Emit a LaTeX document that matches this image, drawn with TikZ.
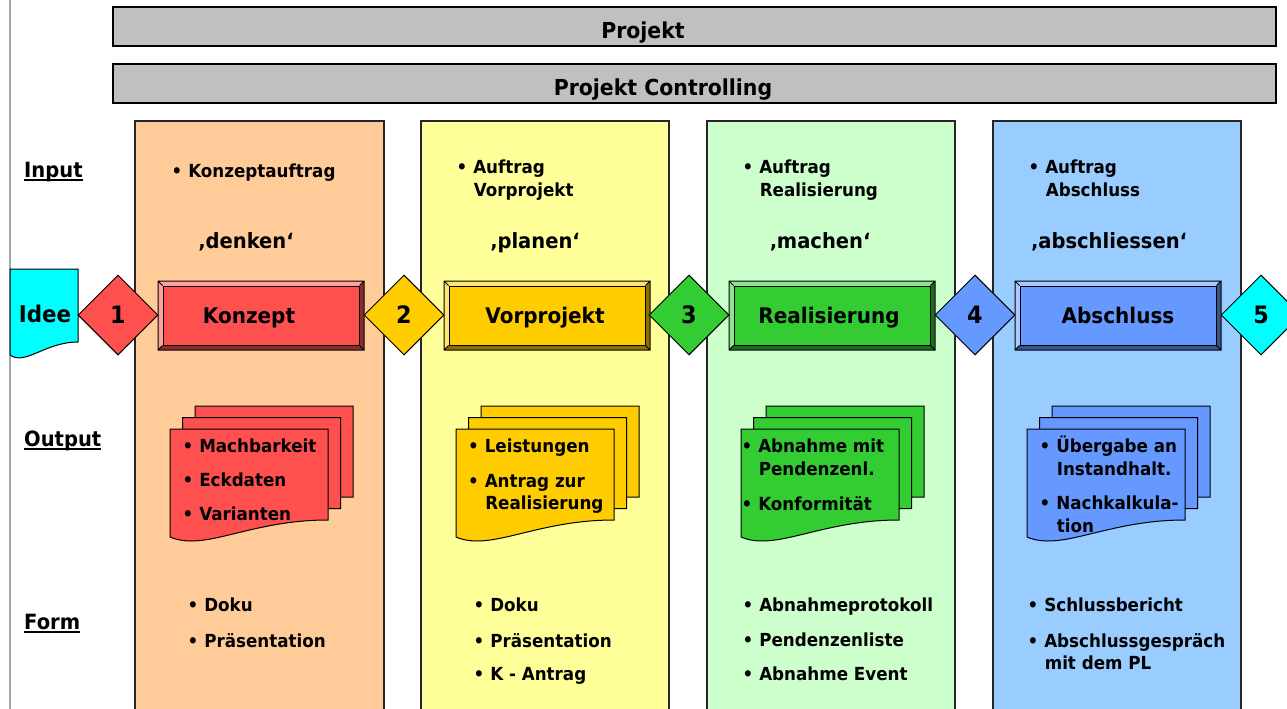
\documentclass[tikz,border=0pt]{standalone}
\usepackage{fontspec}
\setmainfont{DejaVu Sans}[FakeStretch=0.93]
\usetikzlibrary{shapes.geometric}
\definecolor{peach}{HTML}{FFCC99}
\definecolor{paleyellow}{HTML}{FFFF99}
\definecolor{palegreen}{HTML}{CCFFCC}
\definecolor{paleblue}{HTML}{99CCFF}
\definecolor{konred}{HTML}{FF5050}
\definecolor{vorgold}{HTML}{FFCC00}
\definecolor{reagreen}{HTML}{33CC33}
\definecolor{absblue}{HTML}{6699FF}
\definecolor{ideecyan}{HTML}{00FFFF}
\definecolor{bargray}{HTML}{C0C0C0}
\newcommand{\bul}{\makebox[0.92em][l]{•}}
\newcommand{\ind}{\hspace*{0.95em}}
\newcommand{\ulbf}[1]{\setbox0\hbox{#1}\rlap{\rule[-3.5pt]{\wd0}{1.6pt}}\box0}
% bevelled phase box: name, left, right, colour, label x, label
\newcommand{\phasebox}[6]{%
	\fill[#4!55!black] (#2,281) rectangle (#3,350);
	\fill[#4!55!white] (#2,281) -- (#3,281) -- ({#3-5},286) -- ({#2+5},286) -- ({#2+5},345) -- (#2,350) -- cycle;
	\node[phase, fill=#4] (#1) at ({(#2+#3)/2},315.5) {};
	\draw[line width=1pt] (#2,281) rectangle (#3,350)
		(#2,281) -- (#1.north west) (#3,281) -- (#1.north east)
		(#2,350) -- (#1.south west) (#3,350) -- (#1.south east);
	\node[phaselabel] (#1-label) at (#5,323) {#6};
}
% one sheet with wavy bottom: left, top, bottom-left, colour
\newcommand{\docsheet}[4]{%
	\pgfmathsetmacro{\sheetL}{#1}
	\draw[doc, fill=#4] (\sheetL,#2) -- ({\sheetL+158},#2) -- ({\sheetL+158},{#3-17})
		.. controls ({\sheetL+79},{#3-17}) and ({\sheetL+35},{#3+15}) .. (\sheetL,#3) -- cycle;
}
\newcommand{\docstack}[2]{%
	\docsheet{#1+25}{406}{514}{#2}
	\docsheet{#1+12.5}{417.5}{525.5}{#2}
	\docsheet{#1}{429}{537}{#2}
}

\begin{document}
\begin{tikzpicture}[x=1pt, y=-1pt,
		bar/.style={draw=black, line width=1.5pt, fill=bargray},
		bartext/.style={inner sep=0pt, anchor=base, font=\bfseries\fontsize{22}{26}\selectfont},
		column/.style={draw=black!85, line width=1.2pt},
		rowlabel/.style={inner sep=0pt, anchor=base west, font=\bfseries\fontsize{21}{25}\selectfont},
		item/.style={inner sep=0pt, anchor=north west, align=left, font=\bfseries\fontsize{18}{22.5}\selectfont},
		motto/.style={inner sep=0pt, anchor=base, font=\bfseries\fontsize{21}{25}\selectfont},
		gate/.style={draw=black, line width=1pt, diamond, minimum width=80pt, minimum height=80pt, inner sep=0pt, font=\bfseries\fontsize{24}{28}\selectfont},
		phase/.style={draw=black, line width=1pt, minimum width=196pt, minimum height=59pt, inner sep=0pt},
		phaselabel/.style={inner sep=0pt, anchor=base, font=\bfseries\fontsize{21.5}{26}\selectfont},
		doc/.style={draw=black, line width=1pt},
	]
	\useasboundingbox (0,0) rectangle (1287,709);
	\clip (0,0) rectangle (1287,709);
	\fill[white] (0,0) rectangle (1287,709);
	\draw[black!35, line width=2pt] (10,0) -- (10,709);

	\draw[bar] (113,7) rectangle (1276,46);
	\node[bartext] (projekt) at (643,38) {Projekt};
	\draw[bar] (113,64) rectangle (1276,103);
	\node[bartext] (controlling) at (663,95) {Projekt Controlling};

	\draw[column, fill=peach] (135,121) rectangle (384,720);
	\draw[column, fill=paleyellow] (421,121) rectangle (669,720);
	\draw[column, fill=palegreen] (707,121) rectangle (955,720);
	\draw[column, fill=paleblue] (993,121) rectangle (1241,720);

	\node[rowlabel] (input) at (24,177) {\ulbf{Input}};
	\node[rowlabel] (output) at (24,446) {\ulbf{Output}};
	\node[rowlabel] (form) at (24,629) {\ulbf{Form}};

	% Idee
	\draw[doc, fill=ideecyan] (10,269) -- (78,269) -- (78,342) .. controls (45,342) and (25,366) .. (10,355) -- cycle;
	\node[inner sep=0pt, anchor=base, font=\bfseries\fontsize{23}{27}\selectfont] (idee) at (45,322) {Idee};

	% phases
	\phasebox{konzept}{158}{364}{konred}{249}{Konzept}
	\phasebox{vorprojekt}{444}{650}{vorgold}{545}{Vorprojekt}
	\phasebox{realisierung}{729}{935}{reagreen}{829}{Realisierung}
	\phasebox{abschluss}{1015}{1221}{absblue}{1118}{Abschluss}

	\node[gate, fill=konred] (g1) at (118,315) {1};
	\node[gate, fill=vorgold] (g2) at (404,315) {2};
	\node[gate, fill=reagreen] (g3) at (689,315) {3};
	\node[gate, fill=absblue] (g4) at (975,315) {4};
	\node[gate, fill=ideecyan] (g5) at (1261,315) {5};

	% input
	\node[item] (in1) at (171.5,164) {\bul Konzeptauftrag};
	\node[item] (in2) at (456.5,160) {\bul Auftrag\\\ind Vorprojekt};
	\node[item] (in3) at (742.5,160) {\bul Auftrag\\\ind Realisierung};
	\node[item] (in4) at (1028.5,160) {\bul Auftrag\\\ind Abschluss};

	\node[motto] (motto1) at (246,248) {‚denken‘};
	\node[motto] (motto2) at (535,248) {‚planen‘};
	\node[motto] (motto3) at (820,248) {‚machen‘};
	\node[motto] (motto4) at (1109,248) {‚abschliessen‘};

	% output
	\docstack{170}{konred}
	\docstack{456}{vorgold}
	\docstack{741}{reagreen}
	\docstack{1027}{absblue}

	\node[item] (out1a) at (182.5,439) {\bul Machbarkeit};
	\node[item] (out1b) at (182.5,473) {\bul Eckdaten};
	\node[item] (out1c) at (182.5,507) {\bul Varianten};
	\node[item] (out2a) at (468,439) {\bul Leistungen};
	\node[item] (out2b) at (468,474) {\bul Antrag zur\\\ind Realisierung};
	\node[item] (out3a) at (741.5,439) {\bul Abnahme mit\\\ind Pendenzenl.};
	\node[item] (out3b) at (741.5,496) {\bul Konformität};
	\node[item] (out4a) at (1039.5,436) {\bul Übergabe an\\\ind Instandhalt.};
	\node[item] (out4b) at (1039.5,496) {\bul Nachkalkula-\\\ind tion};

	% form
	\node[item] (form1a) at (187.5,598) {\bul Doku};
	\node[item] (form1b) at (187.5,633) {\bul Präsentation};
	\node[item] (form2a) at (473.5,598) {\bul Doku};
	\node[item] (form2b) at (473.5,633) {\bul Präsentation};
	\node[item] (form2c) at (473.5,667) {\bul K - Antrag};
	\node[item] (form3a) at (742.5,598) {\bul Abnahmeprotokoll};
	\node[item] (form3b) at (742.5,633) {\bul Pendenzenliste};
	\node[item] (form3c) at (742.5,667) {\bul Abnahme Event};
	\node[item] (form4a) at (1027.5,598) {\bul Schlussbericht};
	\node[item] (form4b) at (1027.5,633) {\bul Abschlussgespräch\\\ind mit dem PL};
\end{tikzpicture}
\end{document}
